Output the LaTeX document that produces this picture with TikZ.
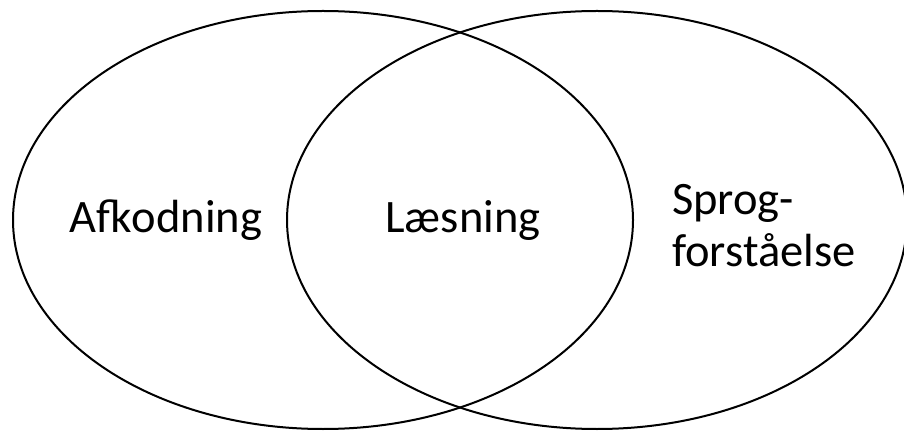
\documentclass[tikz,border=0pt]{standalone}
\usepackage{fontspec}
\setmainfont{Carlito}
\usetikzlibrary{positioning}
\tikzset{
  ring/.style={draw=black,line width=2pt},
  lbl/.style={font=\fontsize{46.5}{52}\selectfont,inner sep=0pt,anchor=base},
}

\begin{document}
\begin{tikzpicture}[x=1pt,y=1pt]
  \useasboundingbox (0,0) rectangle (904,431);
  % the two sets
  \draw[ring] (323,211) ellipse [x radius=310,y radius=209];
  \draw[ring] (597,211) ellipse [x radius=310,y radius=209];
  % labels
  \node[lbl] (afk) at (166,198) {Afkodning};
  \node[lbl] (laes) at (463,198) {Læsning};
  \node[lbl,anchor=base west] (sprog) at (672,216) {Sprog-};
  \node[lbl,anchor=base west] (forst) at (672,164) {forståelse};
\end{tikzpicture}
\end{document}
